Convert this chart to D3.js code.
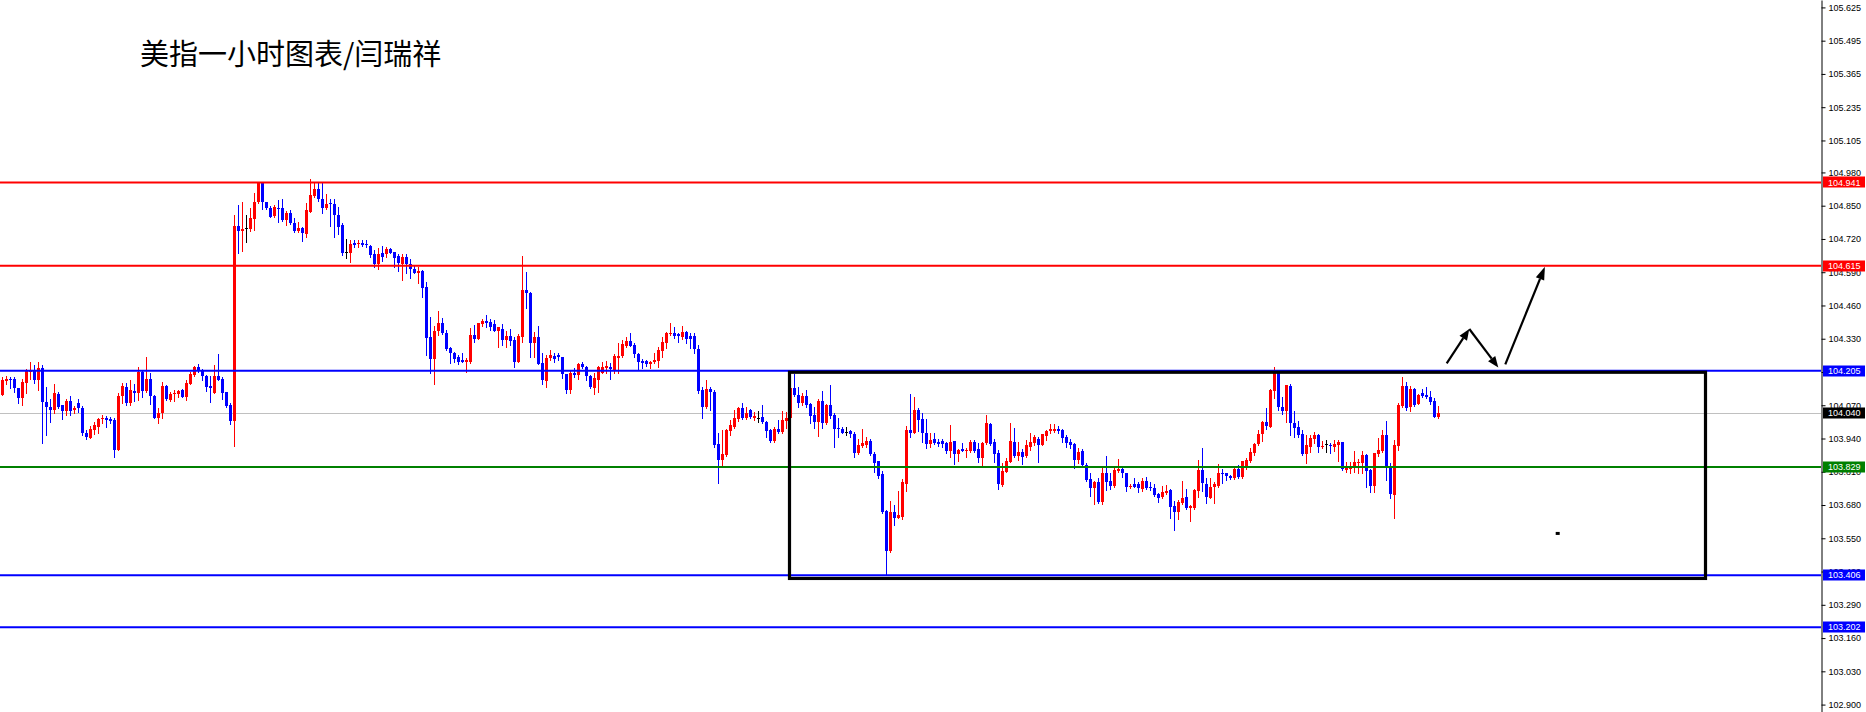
<!DOCTYPE html>
<html><head><meta charset="utf-8">
<script src="https://cdn.jsdelivr.net/npm/d3@7"></script>
<style>html,body{margin:0;padding:0;background:#fff;overflow:hidden}svg{display:block}</style>
</head><body>
<script>
// ---- data (USD index, 1-hour candles) ----
const open=[
104.112,104.166,104.172,104.172,104.136,104.099,104.158,104.201,104.208,104.168,
104.214,104.084,104.064,104.051,104.114,104.071,104.049,104.086,104.051,104.077,
104.058,103.963,103.943,103.973,103.986,104.017,104.022,104.017,104.012,103.895,
104.106,104.142,104.077,104.127,104.119,104.200,104.127,104.172,104.108,104.021,
104.038,104.145,104.090,104.114,104.114,104.129,104.103,104.155,104.188,104.218,
104.204,104.184,104.145,104.119,104.184,104.172,104.120,104.071,104.009,104.770,
104.752,104.761,104.759,104.798,104.863,104.944,104.863,104.842,104.810,104.842,
104.840,104.794,104.820,104.784,104.751,104.761,104.739,104.827,104.888,104.914,
104.875,104.840,104.859,104.857,104.814,104.774,104.669,104.666,104.703,104.700,
104.703,104.700,104.692,104.661,104.622,104.664,104.661,104.681,104.668,104.653,
104.622,104.648,104.621,104.602,104.588,104.595,104.533,104.337,104.249,104.360,
104.390,104.353,104.295,104.275,104.257,104.247,104.240,104.240,104.344,104.329,
104.386,104.399,104.394,104.386,104.361,104.368,104.325,104.342,104.325,104.240,
104.338,104.520,104.510,104.312,104.338,104.234,104.166,104.256,104.262,104.266,
104.260,104.191,104.129,104.197,104.188,104.231,104.221,104.185,104.138,104.168,
104.198,104.214,104.221,104.208,104.256,104.262,104.301,104.322,104.305,104.269,
104.243,104.243,104.230,104.238,104.243,104.283,104.314,104.348,104.351,104.347,
104.335,104.357,104.340,104.340,104.290,104.129,104.064,104.132,104.123,103.918,
103.856,103.875,103.970,103.986,104.016,104.058,104.019,104.051,104.022,104.022,
104.025,104.006,103.973,103.930,103.979,103.966,104.009,104.019,104.136,104.112,
104.077,104.106,104.075,104.032,104.006,104.088,103.999,104.071,104.032,103.982,
103.976,103.966,103.969,103.957,103.882,103.910,103.914,103.931,103.879,103.852,
103.801,103.656,103.501,103.651,103.630,103.634,103.764,103.973,103.963,104.051,
104.016,103.963,103.918,103.938,103.926,103.931,103.922,103.891,103.930,103.878,
103.899,103.892,103.892,103.925,103.899,103.865,103.921,103.996,103.925,103.882,
103.758,103.810,103.849,103.925,103.873,103.886,103.873,103.908,103.923,103.940,
103.914,103.951,103.969,103.970,103.979,103.973,103.944,103.925,103.917,103.856,
103.891,103.836,103.781,103.745,103.770,103.690,103.805,103.774,103.754,103.814,
103.821,103.805,103.751,103.761,103.761,103.741,103.774,103.751,103.748,103.725,
103.710,103.728,103.738,103.676,103.654,103.689,103.712,103.669,103.669,103.736,
103.817,103.764,103.708,103.749,103.754,103.806,103.806,103.795,103.784,103.821,
103.788,103.830,103.852,103.884,103.917,103.957,104.005,103.986,104.127,104.198,
104.064,104.047,104.146,104.002,103.986,103.956,103.878,103.908,103.940,103.953,
103.908,103.917,103.914,103.908,103.914,103.925,103.817,103.819,103.826,103.843,
103.845,103.875,103.817,103.754,103.879,103.892,103.953,103.832,103.719,103.912,
104.067,104.145,104.064,104.132,104.075,104.116,104.110,104.103,104.086,104.025];
const high=[
104.181,104.185,104.181,104.179,104.138,104.172,104.210,104.239,104.227,104.239,
104.227,104.140,104.095,104.153,104.121,104.071,104.093,104.106,104.067,104.095,
104.067,103.973,103.989,104.003,104.022,104.030,104.028,104.025,104.022,104.116,
104.158,104.158,104.168,104.153,104.219,104.208,104.260,104.195,104.111,104.058,
104.161,104.148,104.121,104.129,104.129,104.132,104.168,104.200,104.223,104.231,
104.210,104.188,104.184,104.227,104.270,104.181,104.123,104.077,104.813,104.853,
104.866,104.813,104.840,104.898,104.944,104.944,104.866,104.849,104.851,104.872,
104.876,104.830,104.833,104.800,104.787,104.768,104.862,104.954,104.940,104.940,
104.940,104.896,104.875,104.875,104.846,104.781,104.720,104.716,104.716,104.716,
104.716,104.716,104.695,104.677,104.683,104.692,104.687,104.685,104.670,104.661,
104.660,104.661,104.641,104.614,104.612,104.598,104.553,104.416,104.380,104.438,
104.411,104.364,104.296,104.279,104.266,104.275,104.253,104.373,104.383,104.393,
104.407,104.423,104.406,104.403,104.377,104.387,104.361,104.368,104.335,104.347,
104.653,104.591,104.514,104.355,104.380,104.273,104.265,104.286,104.273,104.273,
104.260,104.192,104.205,104.214,104.236,104.240,104.223,104.188,104.197,104.223,
104.240,104.243,104.234,104.269,104.312,104.325,104.338,104.351,104.312,104.273,
104.249,104.247,104.243,104.275,104.299,104.338,104.357,104.393,104.374,104.353,
104.381,104.361,104.353,104.353,104.305,104.142,104.168,104.142,104.129,103.960,
103.973,103.976,104.012,104.051,104.062,104.077,104.064,104.054,104.045,104.049,
104.071,104.008,103.976,103.986,104.012,104.049,104.045,104.138,104.192,104.142,
104.116,104.129,104.077,104.064,104.093,104.127,104.073,104.149,104.038,104.019,
103.986,103.986,103.973,103.966,103.937,103.976,103.947,103.938,103.887,103.852,
103.814,103.660,103.695,103.680,103.735,103.781,103.989,104.114,104.101,104.060,
104.038,104.016,103.960,103.960,103.937,103.938,103.927,103.993,103.931,103.900,
103.921,103.901,103.934,103.934,103.921,103.927,104.032,104.002,103.937,103.895,
103.845,103.862,103.999,103.983,103.927,103.900,103.934,103.961,103.953,103.944,
103.957,103.973,103.996,103.996,103.989,103.979,103.953,103.937,103.921,103.901,
103.899,103.843,103.804,103.772,103.784,103.826,103.871,103.804,103.834,103.860,
103.823,103.807,103.764,103.784,103.771,103.784,103.791,103.770,103.764,103.728,
103.754,103.758,103.741,103.697,103.699,103.774,103.741,103.682,103.742,103.856,
103.901,103.784,103.787,103.771,103.840,103.821,103.806,103.797,103.823,103.836,
103.852,103.862,103.901,103.921,103.973,104.009,104.058,104.133,104.218,104.201,
104.103,104.151,104.153,104.047,104.008,103.973,103.953,103.953,103.966,103.957,
103.931,103.936,103.921,103.936,103.936,103.927,103.847,103.847,103.891,103.858,
103.891,103.879,103.819,103.884,103.943,103.973,104.008,103.843,103.934,104.077,
104.182,104.161,104.145,104.136,104.114,104.132,104.142,104.127,104.097,104.067];
const low=[
104.110,104.155,104.136,104.120,104.080,104.071,104.116,104.172,104.158,104.129,
103.923,103.953,104.006,104.038,104.058,104.017,104.032,104.032,104.038,104.042,
103.952,103.937,103.943,103.956,103.963,103.999,103.986,103.999,103.869,103.895,
104.077,104.071,104.071,104.088,104.090,104.103,104.120,104.073,104.021,103.999,
104.019,104.090,104.088,104.088,104.101,104.101,104.090,104.155,104.184,104.200,
104.168,104.125,104.084,104.119,104.168,104.093,104.064,103.996,103.912,104.664,
104.674,104.709,104.752,104.755,104.859,104.836,104.838,104.804,104.807,104.787,
104.790,104.774,104.778,104.748,104.748,104.713,104.729,104.827,104.883,104.870,
104.820,104.836,104.770,104.729,104.739,104.657,104.647,104.631,104.687,104.690,
104.692,104.687,104.651,104.612,104.604,104.635,104.648,104.664,104.612,104.596,
104.561,104.585,104.566,104.585,104.549,104.494,104.267,104.198,104.155,104.344,
104.350,104.286,104.236,104.238,104.231,104.238,104.201,104.234,104.318,104.329,
104.381,104.377,104.364,104.360,104.299,104.305,104.296,104.305,104.221,104.240,
104.318,104.451,104.257,104.260,104.231,104.153,104.142,104.247,104.240,104.247,
104.175,104.119,104.119,104.179,104.172,104.214,104.168,104.138,104.114,104.123,
104.195,104.195,104.171,104.195,104.195,104.257,104.299,104.301,104.260,104.210,
104.214,104.225,104.214,104.234,104.221,104.260,104.292,104.344,104.331,104.318,
104.327,104.314,104.292,104.273,104.119,104.021,104.058,104.051,103.905,103.767,
103.836,103.871,103.953,103.983,104.009,104.015,104.015,104.019,104.012,104.006,
103.999,103.947,103.927,103.927,103.963,103.963,103.980,104.019,104.106,104.062,
104.071,104.062,104.002,103.980,103.950,103.980,103.996,104.022,103.908,103.947,
103.960,103.953,103.947,103.869,103.879,103.908,103.905,103.875,103.810,103.784,
103.647,103.409,103.497,103.602,103.628,103.625,103.736,103.947,103.963,103.969,
103.927,103.901,103.905,103.917,103.910,103.908,103.884,103.866,103.840,103.853,
103.891,103.869,103.888,103.888,103.848,103.834,103.918,103.914,103.847,103.742,
103.754,103.810,103.847,103.869,103.856,103.840,103.866,103.895,103.914,103.849,
103.914,103.934,103.963,103.966,103.960,103.927,103.908,103.901,103.823,103.845,
103.831,103.775,103.716,103.684,103.686,103.684,103.738,103.742,103.751,103.810,
103.791,103.736,103.747,103.749,103.732,103.736,103.741,103.738,103.716,103.693,
103.706,103.723,103.628,103.582,103.625,103.684,103.664,103.617,103.663,103.712,
103.736,103.686,103.706,103.686,103.751,103.767,103.778,103.780,103.780,103.784,
103.784,103.819,103.849,103.875,103.914,103.931,103.979,103.986,104.097,104.051,
104.034,104.006,103.954,103.947,103.944,103.875,103.843,103.888,103.921,103.888,
103.901,103.888,103.882,103.891,103.853,103.817,103.810,103.804,103.810,103.806,
103.806,103.749,103.732,103.732,103.871,103.888,103.778,103.706,103.628,103.897,
104.064,104.051,104.049,104.067,104.073,104.101,104.097,104.073,104.023,104.021];
const close=[
104.168,104.172,104.168,104.136,104.099,104.159,104.208,104.208,104.168,104.214,
104.084,104.064,104.051,104.116,104.064,104.049,104.088,104.049,104.058,104.058,
103.963,103.947,103.978,103.991,104.017,104.022,104.012,104.009,103.895,104.106,
104.145,104.077,104.129,104.119,104.200,104.127,104.172,104.108,104.021,104.038,
104.145,104.094,104.114,104.119,104.125,104.103,104.158,104.192,104.218,104.204,
104.184,104.142,104.136,104.184,104.168,104.116,104.068,104.009,104.770,104.752,
104.759,104.761,104.800,104.866,104.940,104.863,104.842,104.807,104.846,104.837,
104.794,104.823,104.781,104.751,104.761,104.742,104.833,104.892,104.914,104.875,
104.842,104.857,104.855,104.814,104.768,104.666,104.669,104.700,104.698,104.705,
104.698,104.695,104.658,104.622,104.661,104.651,104.681,104.666,104.647,104.625,
104.648,104.621,104.601,104.588,104.595,104.529,104.334,104.249,104.360,104.390,
104.351,104.288,104.273,104.252,104.240,104.241,104.247,104.344,104.329,104.390,
104.400,104.390,104.377,104.361,104.374,104.325,104.342,104.322,104.240,104.342,
104.520,104.510,104.312,104.338,104.231,104.168,104.256,104.266,104.251,104.257,
104.191,104.129,104.197,104.188,104.231,104.218,104.184,104.142,104.175,104.218,
104.218,104.223,104.210,104.262,104.262,104.309,104.322,104.303,104.269,104.240,
104.236,104.231,104.238,104.247,104.286,104.318,104.351,104.353,104.342,104.340,
104.357,104.329,104.329,104.288,104.125,104.064,104.132,104.120,103.914,103.856,
103.878,103.973,103.993,104.019,104.058,104.019,104.041,104.025,104.028,104.022,
104.003,103.970,103.930,103.979,103.966,104.012,104.022,104.136,104.110,104.080,
104.106,104.071,104.028,104.006,104.088,103.999,104.071,104.028,103.977,103.976,
103.963,103.966,103.957,103.884,103.914,103.921,103.930,103.879,103.843,103.793,
103.651,103.501,103.651,103.630,103.641,103.770,103.973,103.963,104.051,104.012,
103.960,103.918,103.934,103.921,103.918,103.918,103.891,103.925,103.879,103.895,
103.892,103.897,103.925,103.891,103.865,103.921,103.999,103.918,103.879,103.764,
103.813,103.852,103.930,103.873,103.886,103.869,103.914,103.925,103.944,103.914,
103.956,103.969,103.976,103.979,103.970,103.943,103.923,103.914,103.856,103.887,
103.836,103.778,103.745,103.770,103.690,103.805,103.771,103.754,103.817,103.821,
103.804,103.751,103.755,103.751,103.745,103.774,103.748,103.745,103.719,103.708,
103.732,103.736,103.673,103.654,103.692,103.709,103.669,103.677,103.738,103.817,
103.767,103.712,103.751,103.764,103.806,103.801,103.793,103.784,103.821,103.791,
103.852,103.856,103.888,103.918,103.957,104.005,103.989,104.129,104.201,104.064,
104.047,104.149,104.002,103.982,103.953,103.878,103.914,103.943,103.953,103.908,
103.911,103.917,103.911,103.918,103.927,103.819,103.823,103.830,103.847,103.849,
103.875,103.814,103.754,103.882,103.895,103.953,103.827,103.723,103.914,104.071,
104.145,104.058,104.132,104.071,104.110,104.107,104.103,104.084,104.025,104.041];

const title="美指一小时图表/闫瑞祥";
const axisTicks=[105.625,105.495,105.365,105.235,105.105,104.980,104.850,104.720,104.590,104.460,104.330,104.200,104.070,103.940,103.810,103.680,103.550,103.420,103.290,103.160,103.030,102.900];
const levelPrices=[104.941,104.615,104.205,103.829,103.406,103.202];
const levelKinds=["res","res","sup","mid","sup","sup"];
const bidPrice=104.040;
// drawn objects (bar index, price)
const boxIdx=[196.75,425.75], boxPrice=[104.199,103.393];
const arrowFromIdx=[361.05,366.7,375.7], arrowFromPrice=[104.234,104.368,104.230];
const arrowToIdx=[366.7,373.95,385.6],   arrowToPrice=[104.368,104.218,104.611];
const dotIdx=388.8, dotPrice=103.569;

// ---- drawing ----
const W=1866,H=712,AX=1821;
const kindColor={res:"#ff0000",sup:"#0000ff",mid:"#008000"};
const svg=d3.select("body").append("svg").attr("width",W).attr("height",H);
svg.append("rect").attr("width",W).attr("height",H).attr("fill","#fff");
const x=d3.scaleLinear().domain([0,454.625]).range([2.5,AX]);
const y=d3.scaleLinear().domain([102.871,105.654]).range([H,0]);

svg.append("defs").append("clipPath").attr("id","plot").append("rect").attr("width",AX).attr("height",H);
const plot=svg.append("g").attr("clip-path","url(#plot)");

// bid line
plot.append("line").attr("x1",0).attr("x2",AX).attr("y1",Math.round(y(bidPrice))+0.5).attr("y2",Math.round(y(bidPrice))+0.5)
  .attr("stroke","#c0c0c0").attr("stroke-width",1);

const idx=d3.range(open.length);
const col=i=>close[i]>open[i]?"#ff0000":(close[i]<open[i]?"#0000ff":"#000000");
const cg=plot.append("g").attr("shape-rendering","crispEdges");
cg.selectAll("rect.w").data(idx).join("rect").attr("class","w")
  .attr("x",i=>x(i)-0.5).attr("width",1)
  .attr("y",i=>Math.round(y(high[i])))
  .attr("height",i=>Math.max(1,Math.round(y(low[i]))-Math.round(y(high[i]))+1))
  .attr("fill",col);
cg.selectAll("rect.b").data(idx).join("rect").attr("class","b")
  .attr("x",i=>x(i)-1.5).attr("width",3)
  .attr("y",i=>Math.round(y(Math.max(open[i],close[i]))))
  .attr("height",i=>Math.max(1,Math.round(y(Math.min(open[i],close[i])))-Math.round(y(Math.max(open[i],close[i])))))
  .attr("fill",col);

// horizontal levels
plot.selectAll("line.lv").data(levelPrices).join("line").attr("class","lv")
  .attr("x1",0).attr("x2",AX).attr("y1",d=>y(d)).attr("y2",d=>y(d))
  .attr("stroke",(d,i)=>kindColor[levelKinds[i]]).attr("stroke-width",2);

// rectangle
plot.append("rect").attr("x",x(boxIdx[0])).attr("y",y(boxPrice[0]))
  .attr("width",x(boxIdx[1])-x(boxIdx[0])).attr("height",y(boxPrice[1])-y(boxPrice[0]))
  .attr("fill","none").attr("stroke","#000").attr("stroke-width",3.2);

// arrows
const heads=[{L:11,w:4.5},{L:11,w:4.5},{L:13,w:4.5}];
arrowFromIdx.forEach((_,k)=>{
  const x1=x(arrowFromIdx[k]),y1=y(arrowFromPrice[k]),x2=x(arrowToIdx[k]),y2=y(arrowToPrice[k]);
  const a=Math.atan2(y2-y1,x2-x1),{L,w}=heads[k];
  const bx=x2-L*Math.cos(a),by=y2-L*Math.sin(a);
  plot.append("line").attr("x1",x1).attr("y1",y1).attr("x2",bx).attr("y2",by)
    .attr("stroke","#000").attr("stroke-width",2.2);
  plot.append("polygon").attr("points",[[x2,y2],[bx+w*Math.sin(a),by-w*Math.cos(a)],[bx-w*Math.sin(a),by+w*Math.cos(a)]].map(p=>p.join(",")).join(" "))
    .attr("fill","#000");
});
plot.append("rect").attr("x",x(dotIdx)-2).attr("y",y(dotPrice)-1.5).attr("width",4).attr("height",3).attr("fill","#000");

// price axis
const axis=d3.axisRight(y).tickValues(axisTicks).tickSize(4).tickSizeOuter(0).tickPadding(3).tickFormat(d3.format(".3f"));
const ag=svg.append("g").attr("transform",`translate(${AX+0.5},0)`).call(axis);
ag.select(".domain").attr("stroke","#000");
ag.selectAll(".tick line").attr("stroke","#000");
ag.selectAll(".tick text").attr("font-family","Liberation Sans, Arial, sans-serif").attr("font-size","9px").attr("fill","#000");

// price labels
const tags=levelPrices.map((p,i)=>({p,c:kindColor[levelKinds[i]]})).concat([{p:bidPrice,c:"#000"}]);
const tg=svg.append("g");
tags.forEach(t=>{
  const yy=y(t.p);
  tg.append("rect").attr("x",AX+2).attr("y",Math.round(yy)-5.5).attr("width",42).attr("height",11).attr("fill",t.c);
  tg.append("text").attr("x",AX+7).attr("y",yy).attr("dy","0.35em").attr("fill","#fff")
    .attr("font-family","Liberation Sans, Arial, sans-serif").attr("font-size","9px").text(d3.format(".3f")(t.p));
});

// title
svg.append("text").attr("x",140).attr("y",65).attr("font-family","Noto Sans CJK SC, sans-serif")
  .attr("font-size","29px").attr("fill","#000").text(title);
</script>
</body></html>
